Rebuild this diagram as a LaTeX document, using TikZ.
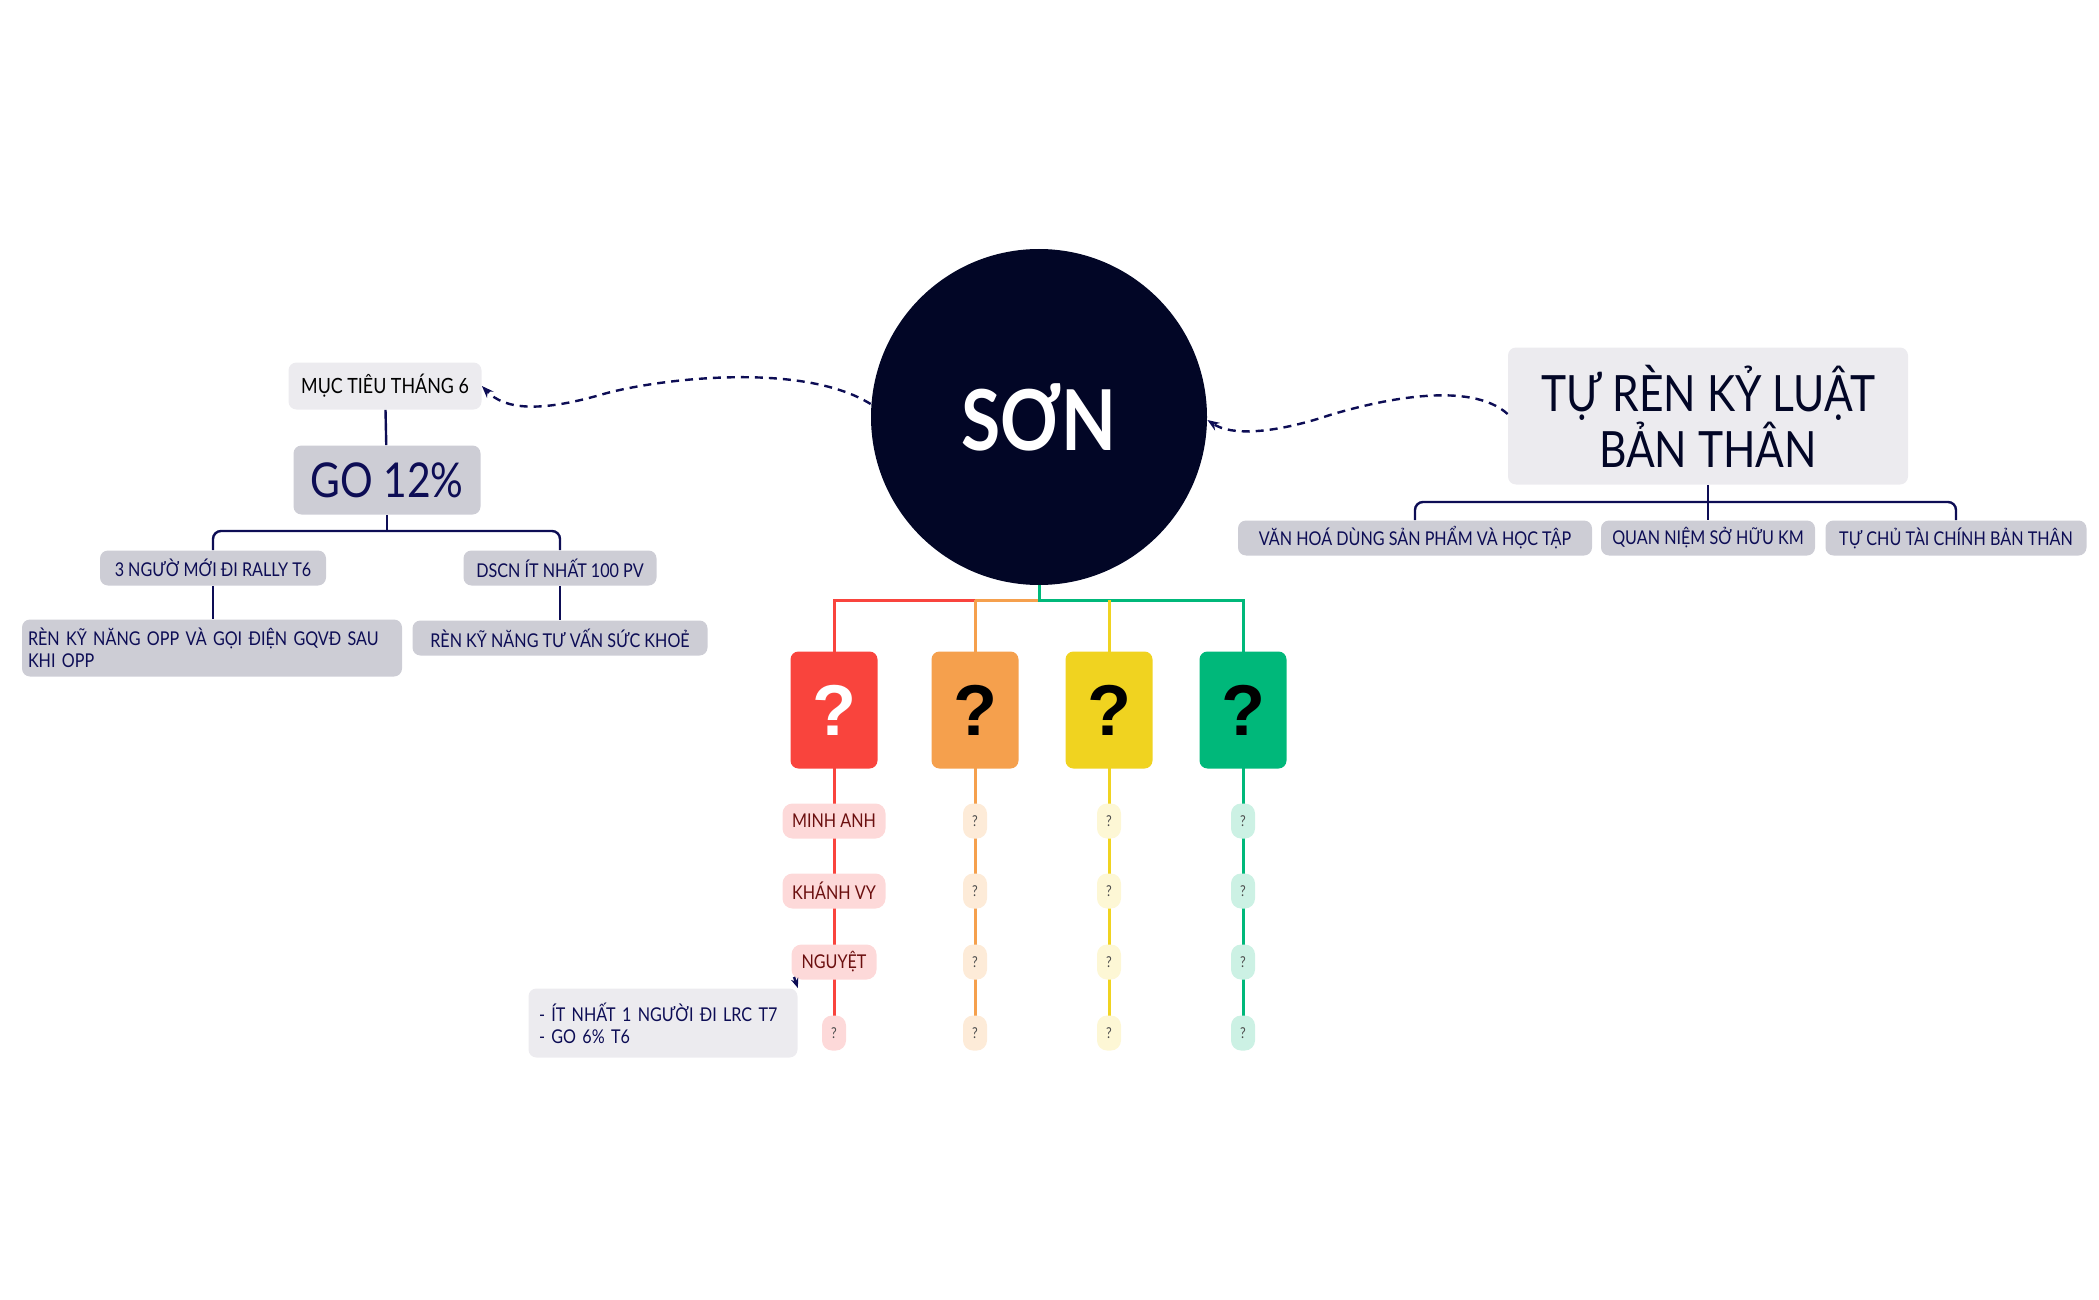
\documentclass[tikz,border=0pt]{standalone}
\usepackage{fontspec}
\setmainfont{Lato}[FakeStretch=0.85]
\newfontfamily\qfont{Liberation Sans}
\usetikzlibrary{arrows.meta}
\definecolor{navy}{HTML}{0D0D55}
\definecolor{ink}{HTML}{020626}
\definecolor{gA}{HTML}{CDCDD5}
\definecolor{gB}{HTML}{ECEBEF}
\definecolor{cR}{HTML}{F9443D}
\definecolor{cO}{HTML}{F5A04D}
\definecolor{cY}{HTML}{F0D320}
\definecolor{cG}{HTML}{00B87A}
\definecolor{lR}{HTML}{FDD9D9}
\definecolor{lO}{HTML}{FDEBD8}
\definecolor{lY}{HTML}{FDF7D5}
\definecolor{lG}{HTML}{CCF1E4}
\definecolor{tR}{HTML}{6B0F0F}
\tikzset{
 box/.style={rounded corners=4pt,inner sep=0pt,align=center,text=navy},
 small/.style={box,fill=gA,minimum height=17.5pt,font=\fontsize{9.5}{11}\selectfont},
 big/.style={rounded corners=4pt,minimum width=43.5pt,minimum height=58.5pt,font=\qfont\bfseries\fontsize{36}{36}\selectfont},
 pill/.style={rounded corners=5pt,minimum height=17.5pt,inner sep=0pt,font=\fontsize{9.5}{11}\selectfont,text=tR},
 qp/.style={rounded corners=5pt,minimum height=17.5pt,minimum width=12pt,inner sep=0pt,font=\fontsize{7.5}{9}\selectfont,text=black!70},
 tree/.style={navy,line width=1.2pt,rounded corners=4pt},
 dashlink/.style={navy,line width=1.2pt,dash pattern=on 4pt off 3pt,-{Stealth[length=6pt]}},
}
\begin{document}
\begin{tikzpicture}[x=0.5pt,y=-0.5pt]
\useasboundingbox (0,0) rectangle (2099,1300);
\coordinate (hub) at (1039,600);
\draw[cR,line width=1.5pt] (hub) -- (834,600) -- (834,1033);
\draw[cO,line width=1.5pt] (975,600) -- (1039,600);
\draw[cO,line width=1.5pt] (975,600) -- (975,1033);
\draw[cG,line width=1.5pt] (1039,585) -- (hub) -- (1243,600) -- (1243,1033);
\draw[cY,line width=1.5pt] (1109,600) -- (1109,1033);
\node[circle,fill=ink,minimum size=168pt,inner sep=0pt,text=white,font=\bfseries\fontsize{42}{42}\selectfont] (son) at (1039,417) {SƠN};
% left
\node[box,fill=gB,minimum width=96.5pt,minimum height=23.5pt,font=\fontsize{10.5}{12}\selectfont,text=black] (muc) at (385,386) {MỤC TIÊU THÁNG 6};
\node[box,fill=gA,minimum width=93.5pt,minimum height=34.5pt,font=\fontsize{24}{24}\selectfont] (go) at (387,480) {GO 12\%};
\node[small,minimum width=113pt] (a1) at (213,568) {3 NGƯỜ MỚI ĐI RALLY T6};
\node[small,minimum width=96.5pt] (a2) at (560,568) {DSCN ÍT NHẤT 100 PV};
\node[small,minimum width=190pt,minimum height=28.5pt,align=left,text width=184pt] (b1) at (212,648) {RÈN KỸ NĂNG OPP VÀ GỌI ĐIỆN GQVĐ SAU\\KHI OPP};
\node[small,minimum width=147.5pt] (b2) at (560,638) {RÈN KỸ NĂNG TƯ VẤN SỨC KHOẺ};
\draw[tree] (muc) -- (go);
\draw[tree] (a1.north) -- (213,531) -- (560,531) -- (a2.north);
\draw[tree] (go.south) -- (387,531);
\draw[tree] (a1) -- (b1.north -| a1);
\draw[tree] (a2) -- (b2);
% right
\node[box,fill=gB,minimum width=200pt,minimum height=68.5pt,font=\fontsize{25}{28}\selectfont,text=ink] (tu) at (1708,416) {TỰ RÈN KỶ LUẬT\\BẢN THÂN};
\node[small,minimum width=177pt] (c1) at (1415,538) {VĂN HOÁ DÙNG SẢN PHẨM VÀ HỌC TẬP};
\node[small,minimum width=107pt] (c2) at (1708,538) {QUAN NIỆM SỞ HỮU KM};
\node[small,minimum width=130.5pt] (c3) at (1956,538) {TỰ CHỦ TÀI CHÍNH BẢN THÂN};
\draw[tree] (c1.north) -- (1415,502) -- (1956,502) -- (c3.north);
\draw[tree] (tu.south) -- (c2.north);
% dashed connectors
\draw[dashlink] (son.west |- 0,404) .. controls (800,360) and (650,380) .. (600,395) .. controls (540,412) and (505,410) .. (muc.east);
\draw[dashlink] (tu.west |- 0,414) .. controls (1470,380) and (1380,400) .. (1330,415) .. controls (1270,435) and (1230,435) .. (son.east |- 0,420);
% big boxes
\node[big,fill=cR,text=white] (q1) at (834,710) {?};
\node[big,fill=cO] (q2) at (975,710) {?};
\node[big,fill=cY] (q3) at (1109,710) {?};
\node[big,fill=cG] (q4) at (1243,710) {?};
% red column
\node[pill,fill=lR,minimum width=51.5pt] (r1) at (834,821) {MINH ANH};
\node[pill,fill=lR,minimum width=51.5pt] (r2) at (834,891) {KHÁNH VY};
\node[pill,fill=lR,minimum width=42.5pt] (r3) at (834,962) {NGUYỆT};
\node[qp,fill=lR] (r4) at (834,1033) {?};
\foreach \c/\x/\n in {lO/975/o,lY/1109/y,lG/1243/g}{
 \node[qp,fill=\c] (\n1) at (\x,821) {?};
 \node[qp,fill=\c] (\n2) at (\x,891) {?};
 \node[qp,fill=\c] (\n3) at (\x,962) {?};
 \node[qp,fill=\c] (\n4) at (\x,1033) {?};
}
\node[box,fill=gB,minimum width=134.5pt,minimum height=34.5pt,align=left,text width=124pt,font=\fontsize{9.5}{11}\selectfont] (note) at (663,1023) {- ÍT NHẤT 1 NGƯỜI ĐI LRC T7\\- GO 6\% T6};
\coordinate (nstart) at (794,977);
\draw[navy,line width=1.2pt,dash pattern=on 3pt off 2pt,-{Stealth[length=5pt]}] (nstart) -- (note.north east);
\end{tikzpicture}
\end{document}
